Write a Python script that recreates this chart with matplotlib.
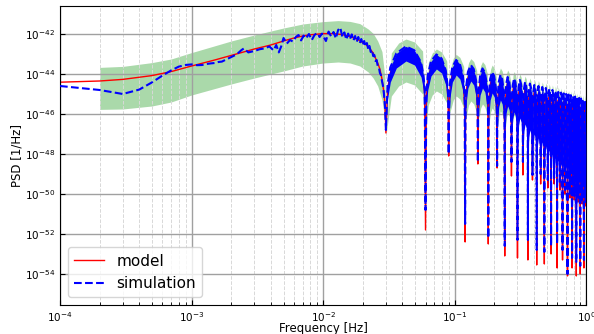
import numpy as np
import matplotlib
matplotlib.use('Agg')
import matplotlib.pyplot as plt

# all PSD values below are log10 of the PSD in 1/Hz

# model, smooth part below the first null
f_model_low = [1e-4, 2e-4, 3e-4, 5e-4, 7e-4, 1e-3, 1.5e-3, 2e-3, 3e-3, 4e-3,
               5e-3, 6e-3, 7e-3, 8e-3, 1e-2, 1.2e-2, 1.4e-2, 1.6e-2, 1.8e-2, 2.0e-2,
               2.2e-2, 2.4e-2, 2.6e-2, 2.7e-2, 2.8e-2, 2.9e-2, 2.95e-2]
psd_model_low = [-44.41, -44.35, -44.27, -44.08, -43.88, -43.6, -43.3, -43.07, -42.75, -42.55,
                 -42.35, -42.2, -42.1, -42.04, -41.98, -41.98, -42.03, -42.13, -42.25, -42.42,
                 -42.62, -42.95, -43.45, -43.75, -44.25, -44.95, -45.5]

# simulation, below the first null
f_sim_low = [1e-4, 2e-4, 3e-4, 4e-4, 5e-4, 6e-4, 7e-4, 8e-4, 9e-4, 1.0e-3,
             1.1e-3, 1.2e-3, 1.3e-3, 1.4e-3, 1.5e-3, 1.6e-3, 1.7e-3, 1.8e-3, 1.9e-3, 2.0e-3,
             2.2e-3, 2.4e-3, 2.5e-3, 2.7e-3, 3.0e-3, 3.3e-3, 3.6e-3, 3.9e-3, 4.2e-3, 4.4e-3,
             4.6e-3, 4.8e-3, 5.0e-3, 5.3e-3, 5.6e-3, 5.9e-3, 6.2e-3, 6.5e-3, 6.8e-3, 7.1e-3,
             7.4e-3, 7.8e-3, 8.2e-3, 8.6e-3, 9.0e-3, 9.4e-3, 9.8e-3,
             0.0105, 0.011, 0.0115, 0.012, 0.0125, 0.013, 0.0135, 0.014, 0.0145, 0.015,
             0.0155, 0.016, 0.0165, 0.017, 0.0175, 0.018, 0.0185, 0.019, 0.0195, 0.02,
             0.0205, 0.021, 0.0215, 0.022, 0.0225, 0.023, 0.0235, 0.024, 0.0245, 0.025,
             0.0255, 0.026, 0.0265, 0.027, 0.0275, 0.028, 0.0285, 0.029, 0.0295]
psd_sim_low = [-44.6, -44.8, -45.0, -44.78, -44.42, -44.08, -43.82, -43.63, -43.55, -43.52,
               -43.56, -43.55, -43.5, -43.47, -43.45, -43.4, -43.38, -43.3, -43.22, -43.15,
               -43.02, -42.8, -42.72, -42.92, -42.85, -42.76, -42.72, -42.62, -42.82, -42.55,
               -42.92, -42.62, -42.2, -42.48, -42.3, -42.38, -42.15, -42.05, -42.32, -42.08,
               -42.22, -42.0, -42.3, -42.05, -41.95, -42.15, -41.98,
               -42.35, -41.88, -42.12, -41.9, -42.22, -41.8, -41.68, -42.15, -41.92, -42.28,
               -41.98, -42.25, -42.02, -42.32, -42.1, -42.4, -42.15, -42.45, -42.25, -42.55,
               -42.35, -42.62, -42.45, -42.75, -42.6, -42.9, -42.8, -43.1, -43.05, -43.35,
               -43.3, -43.6, -43.65, -43.95, -44.05, -44.35, -44.6, -45.0, -45.6]

# confidence band, below the first null
f_band_low = [2e-4, 3e-4, 5e-4, 7e-4, 1e-3, 2e-3, 3e-3, 5e-3, 7e-3, 1e-2,
              1.3e-2, 1.6e-2, 1.9e-2, 2.2e-2, 2.4e-2, 2.6e-2, 2.8e-2, 2.95e-2]
band_hi_low = [-43.67, -43.62, -43.43, -43.25, -42.93, -42.35, -42.05, -41.7, -41.5, -41.38,
               -41.33, -41.37, -41.48, -41.75, -41.97, -42.35, -42.88, -44.2]
band_lo_low = [-45.77, -45.75, -45.6, -45.4, -45.05, -44.5, -44.2, -43.85, -43.6, -43.45,
               -43.4, -43.45, -43.6, -43.9, -44.2, -44.6, -45.3, -46.3]

# nulls of the response
null_f = [0.03, 0.06, 0.09, 0.12, 0.15, 0.18, 0.21, 0.24, 0.27, 0.30, 0.33,
          0.36, 0.39, 0.42, 0.45, 0.48, 0.51, 0.54, 0.57, 0.60, 0.63, 0.66,
          0.69, 0.72, 0.75, 0.78, 0.81, 0.84, 0.87, 0.90, 0.93, 0.96, 0.99]
model_nl = [-46.95, -51.8, -48.1, -52.4, -48.5, -52.5, -48.7, -53.1, -49.1, -53.2, -49.05,
            -53.3, -49.3, -53.55, -49.5, -53.5, -49.7, -53.0, -49.5, -53.7, -49.8, -53.3,
            -50.0, -54.1, -50.2, -53.7, -50.3, -54.1, -50.4, -54.0, -50.5, -53.7, -50.6]
sim_nl = [-46.8, -50.8, -48.0, -51.5, -48.4, -52.2, -48.6, -52.6, -48.4, -52.3, -48.4,
          -52.3, -49.05, -52.8, -49.0, -52.9, -49.3, -52.6, -49.2, -52.5, -49.5, -52.8,
          -49.8, -54.0, -50.0, -53.2, -50.1, -53.4, -50.2, -53.6, -50.3, -53.3, -50.4]
band_hi_nl = [-47.1, -46.9, -46.1, -46.4, -45.9, -46.0, -45.8, -45.85, -45.7, -45.65, -45.6,
              -45.6, -45.6, -45.6, -45.6, -45.6, -45.62, -45.64, -45.66, -45.68, -45.7, -45.72,
              -45.74, -45.76, -45.78, -45.8, -45.82, -45.84, -45.86, -45.88, -45.9, -45.92, -45.94]
band_lo_nl = [-47.1, -46.9, -46.1, -46.4, -45.9, -46.1, -46.1, -46.1, -46.2, -46.3, -46.4,
              -46.45, -46.5, -46.55, -46.6, -46.65, -46.7, -46.75, -46.8, -46.85, -46.88, -46.9,
              -46.93, -46.96, -46.99, -47.02, -47.05, -47.08, -47.1, -47.12, -47.14, -47.16, -47.18]

# top of each lobe between two nulls
model_pk = [-42.88, -43.3, -43.62, -43.85, -44.03, -44.2, -44.35, -44.45, -44.53, -44.65,
            -44.72, -44.82, -44.88, -44.95, -45.02, -45.08, -45.15, -45.2, -45.25, -45.3,
            -45.34, -45.38, -45.42, -45.46, -45.5, -45.53, -45.56, -45.59, -45.62, -45.65,
            -45.68, -45.71]
sim_hi_pk = [-42.62, -43.02, -43.3, -43.55, -43.72, -43.9, -44.05, -44.15, -44.22, -44.3,
             -44.4, -44.48, -44.55, -44.6, -44.65, -44.7, -44.75, -44.8, -44.85, -44.9,
             -44.93, -44.97, -45.0, -45.03, -45.06, -45.1, -45.13, -45.16, -45.2, -45.23,
             -45.27, -45.3]
sim_lo_pk = [-43.35, -43.75, -44.05, -44.35, -44.7, -44.95, -45.3, -45.6, -45.9, -46.2,
             -46.5, -46.8, -47.0, -47.2, -47.4, -47.6, -47.8, -48.0, -48.2, -48.3,
             -48.4, -48.5, -48.6, -48.7, -48.8, -48.9, -49.0, -49.1, -49.2, -49.3,
             -49.4, -49.5]
band_hi_pk = [-42.25, -42.75, -43.02, -43.23, -43.38, -43.55, -43.7, -43.8, -43.88, -44.0,
              -44.1, -44.2, -44.27, -44.33, -44.4, -44.45, -44.5, -44.55, -44.6, -44.65,
              -44.7, -44.74, -44.78, -44.82, -44.86, -44.9, -44.93, -44.96, -44.99, -45.02,
              -45.05, -45.08]
band_lo_pk = [-44.4, -44.85, -45.1, -45.35, -45.5, -45.7, -45.85, -45.95, -46.05, -46.15,
              -46.25, -46.3, -46.35, -46.4, -46.45, -46.5, -46.55, -46.6, -46.65, -46.7,
              -46.72, -46.75, -46.78, -46.8, -46.83, -46.86, -46.89, -46.92, -46.95, -46.98,
              -47.0, -47.02]

# lobe profile read from the wide lobes: position inside the lobe, decades below the top
lobe_frac = [0.03, 0.08, 0.2, 0.42, 0.65, 0.85, 0.93, 0.97]
lobe_drop = [-1.9, -1.05, -0.35, 0.0, -0.2, -0.8, -1.45, -2.1]
band_frac = [0.1, 0.25, 0.42, 0.65, 0.9]
band_drop = [-0.7, -0.2, 0.0, -0.15, -0.6]

# values at 1 Hz (end of the last lobe)
model_end = -45.9
sim_end_hi = -45.35
sim_end_lo = -48.0
band_end_hi = -45.0
band_end_lo = -47.1


def lobes(nl, top, frac, drop, end):
    """Chain the lobes: null, lobe profile scaled to its top, next null"""
    f, v = [], []
    for k in range(len(top)):
        a = null_f[k]
        d = null_f[k + 1] - a
        f.append(a)
        v.append(nl[k])
        for fr, dr in zip(frac, drop):
            f.append(a + fr * d)
            v.append(top[k] + dr)
    f += [null_f[-1], 1.0]
    v += [nl[-1], end]
    return f, v


def plot_psd():
    f_lobe, model_v = lobes(model_nl, model_pk, lobe_frac, lobe_drop, model_end)
    _, sim_hi = lobes(sim_nl, sim_hi_pk, lobe_frac, lobe_drop, sim_end_hi)
    _, sim_lo = lobes(sim_nl, sim_lo_pk, lobe_frac, lobe_drop, sim_end_lo)
    f_blobe, band_hi = lobes(band_hi_nl, band_hi_pk, band_frac, band_drop, band_end_hi)
    _, band_lo = lobes(band_lo_nl, band_lo_pk, band_frac, band_drop, band_end_lo)

    fig = plt.figure(figsize=(5.94, 3.34), dpi=100)
    ax = fig.add_axes([0.101, 0.087, 0.886, 0.895])

    ax.fill_between(f_band_low + f_blobe, 10.0 ** np.array(band_lo_low + band_lo),
                    10.0 ** np.array(band_hi_low + band_hi), color='C2', alpha=0.4, lw=0, zorder=1)
    ax.plot(f_model_low + f_lobe, 10.0 ** np.array(psd_model_low + model_v), 'r-', lw=1,
            label='model', zorder=2)
    ax.fill_between(f_lobe, 10.0 ** np.array(sim_lo), 10.0 ** np.array(sim_hi), color='b', lw=0, zorder=3)
    ax.plot(f_sim_low + f_lobe, 10.0 ** np.array(psd_sim_low + sim_hi), 'b--', lw=1.5,
            label='simulation', zorder=4)

    ax.set_xscale('log')
    ax.set_yscale('log')
    ax.set_xlim(1e-4, 1)
    ax.set_ylim(10 ** -55.55, 10 ** -40.6)
    ax.set_yticks([10.0 ** e for e in range(-54, -41, 2)])
    ax.yaxis.set_minor_locator(matplotlib.ticker.NullLocator())
    ax.tick_params(which='both', direction='in', labelsize=7.5)
    ax.grid(which='major', color='#a0a0a0', lw=1.0)
    ax.grid(which='minor', axis='x', color='#d8d8d8', ls='--', lw=0.7)
    ax.set_xlabel('Frequency [Hz]', fontsize=8.5, labelpad=-0.8)
    ax.set_ylabel('PSD [1/Hz]', fontsize=8.5, labelpad=1)
    ax.legend(loc='lower left', fontsize=11)
    fig.savefig('out.png', dpi=100)


if __name__ == '__main__':
    plot_psd()
